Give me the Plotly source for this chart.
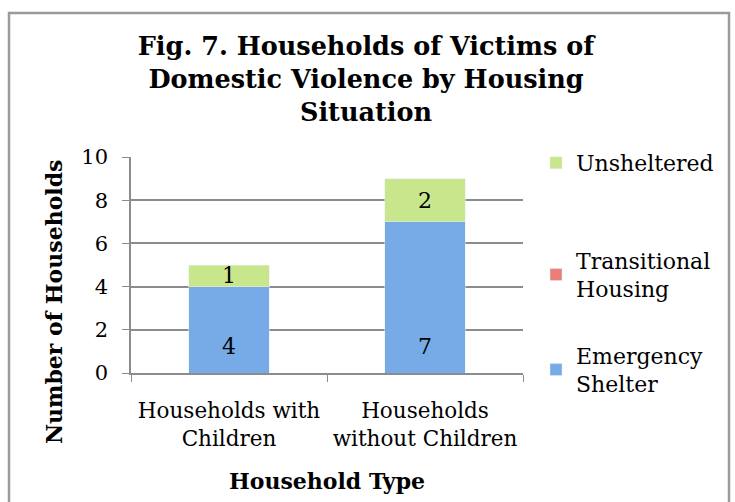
import plotly.graph_objects as go

categories = ["Households with<br>Children", "Households<br>without Children"]
emergency_shelter = [4, 7]
transitional_housing = [0, 0]
unsheltered = [1, 2]
y_ticks = [0, 2, 4, 6, 8, 10]

FONT = "DejaVu Serif"
W, H = 735, 502
L, R, T, B = 131, 212, 157, 129
pw = W - L - R
ph = H - T - B

def px_x(x):
    return (x - L) / pw

def px_y(y):
    return (H - B - y) / ph

fig = go.Figure()
fig.add_trace(go.Bar(
    x=categories, y=emergency_shelter, name="Emergency<br>Shelter",
    marker=dict(color="#76abe8"),
    legend="legend3",
))
fig.add_trace(go.Bar(
    x=categories, y=transitional_housing, name="Transitional<br>Housing",
    marker=dict(color="#ec7d79"),
    legend="legend2",
))
fig.add_trace(go.Bar(
    x=categories, y=unsheltered, name="Unsheltered",
    marker=dict(color="#c8e68c"),
    text=[str(v) for v in unsheltered], textposition="inside",
    insidetextanchor="middle", textangle=0, constraintext="none",
    textfont=dict(family=FONT, size=22, color="black"),
    legend="legend",
))

leg_common = dict(font=dict(family=FONT, size=22, color="black"),
                  bgcolor="rgba(0,0,0,0)", xanchor="left", yanchor="middle",
                  x=px_x(536), itemwidth=30)

# Emergency Shelter value labels, placed near the bar base
es_labels = [
    dict(text=str(v), x=c, y=0, xref="x", yref="y", yshift=27,
         xanchor="center", yanchor="middle", showarrow=False,
         font=dict(family=FONT, size=22, color="black"))
    for c, v in zip(categories, emergency_shelter)
]

fig.update_layout(
    width=W, height=H,
    margin=dict(l=L, r=R, t=T, b=B, autoexpand=False),
    paper_bgcolor="white", plot_bgcolor="white",
    barmode="stack", bargap=0.59,
    showlegend=True,
    title=dict(
        text="<b>Fig. 7. Households of Victims of<br>Domestic Violence by Housing<br>Situation</b>",
        font=dict(family=FONT, size=25.5, color="black"),
        x=366 / W, xanchor="center", xref="container",
        y=1 - 55 / H, yanchor="middle", yref="container",
    ),
    legend=dict(**leg_common, y=px_y(163)),
    legend2=dict(**leg_common, y=px_y(275)),
    legend3=dict(**leg_common, y=px_y(370)),
    xaxis=dict(
        showline=True, linecolor="#8c8c8c", linewidth=1.5,
        ticks="outside", ticklen=7, tickcolor="#8c8c8c",
        tickson="boundaries", ticklabelstandoff=17, tickangle=0,
        tickfont=dict(family=FONT, size=21.5, color="black"),
    ),
    yaxis=dict(
        range=[0, 10], tickvals=y_ticks,
        showline=True, linecolor="#8c8c8c", linewidth=1.5,
        ticks="outside", ticklen=7, tickcolor="#8c8c8c",
        showgrid=True, gridcolor="#8c8c8c", gridwidth=1.5,
        zeroline=False, ticklabelstandoff=10,
        tickfont=dict(family=FONT, size=21, color="black"),
    ),
    annotations=es_labels + [
        dict(text="<b>Household Type</b>", xref="paper", yref="paper",
             x=0.5, y=px_y(481), xanchor="center", yanchor="middle",
             showarrow=False, font=dict(family=FONT, size=22, color="black")),
        dict(text="<b>Number of Households</b>", xref="paper", yref="paper",
             x=px_x(54), y=px_y(302), xanchor="center", yanchor="middle",
             textangle=-90, showarrow=False,
             font=dict(family=FONT, size=22, color="black")),
    ],
    shapes=[dict(
        type="rect", xref="paper", yref="paper",
        x0=px_x(9), x1=px_x(729), y0=px_y(520), y1=px_y(13),
        line=dict(color="#9a9a9a", width=2.5), fillcolor="rgba(0,0,0,0)", layer="below",
    )],
)

fig.write_html("out.html", config={"displayModeBar": False},
               post_script="document.body.style.margin='0px';")
